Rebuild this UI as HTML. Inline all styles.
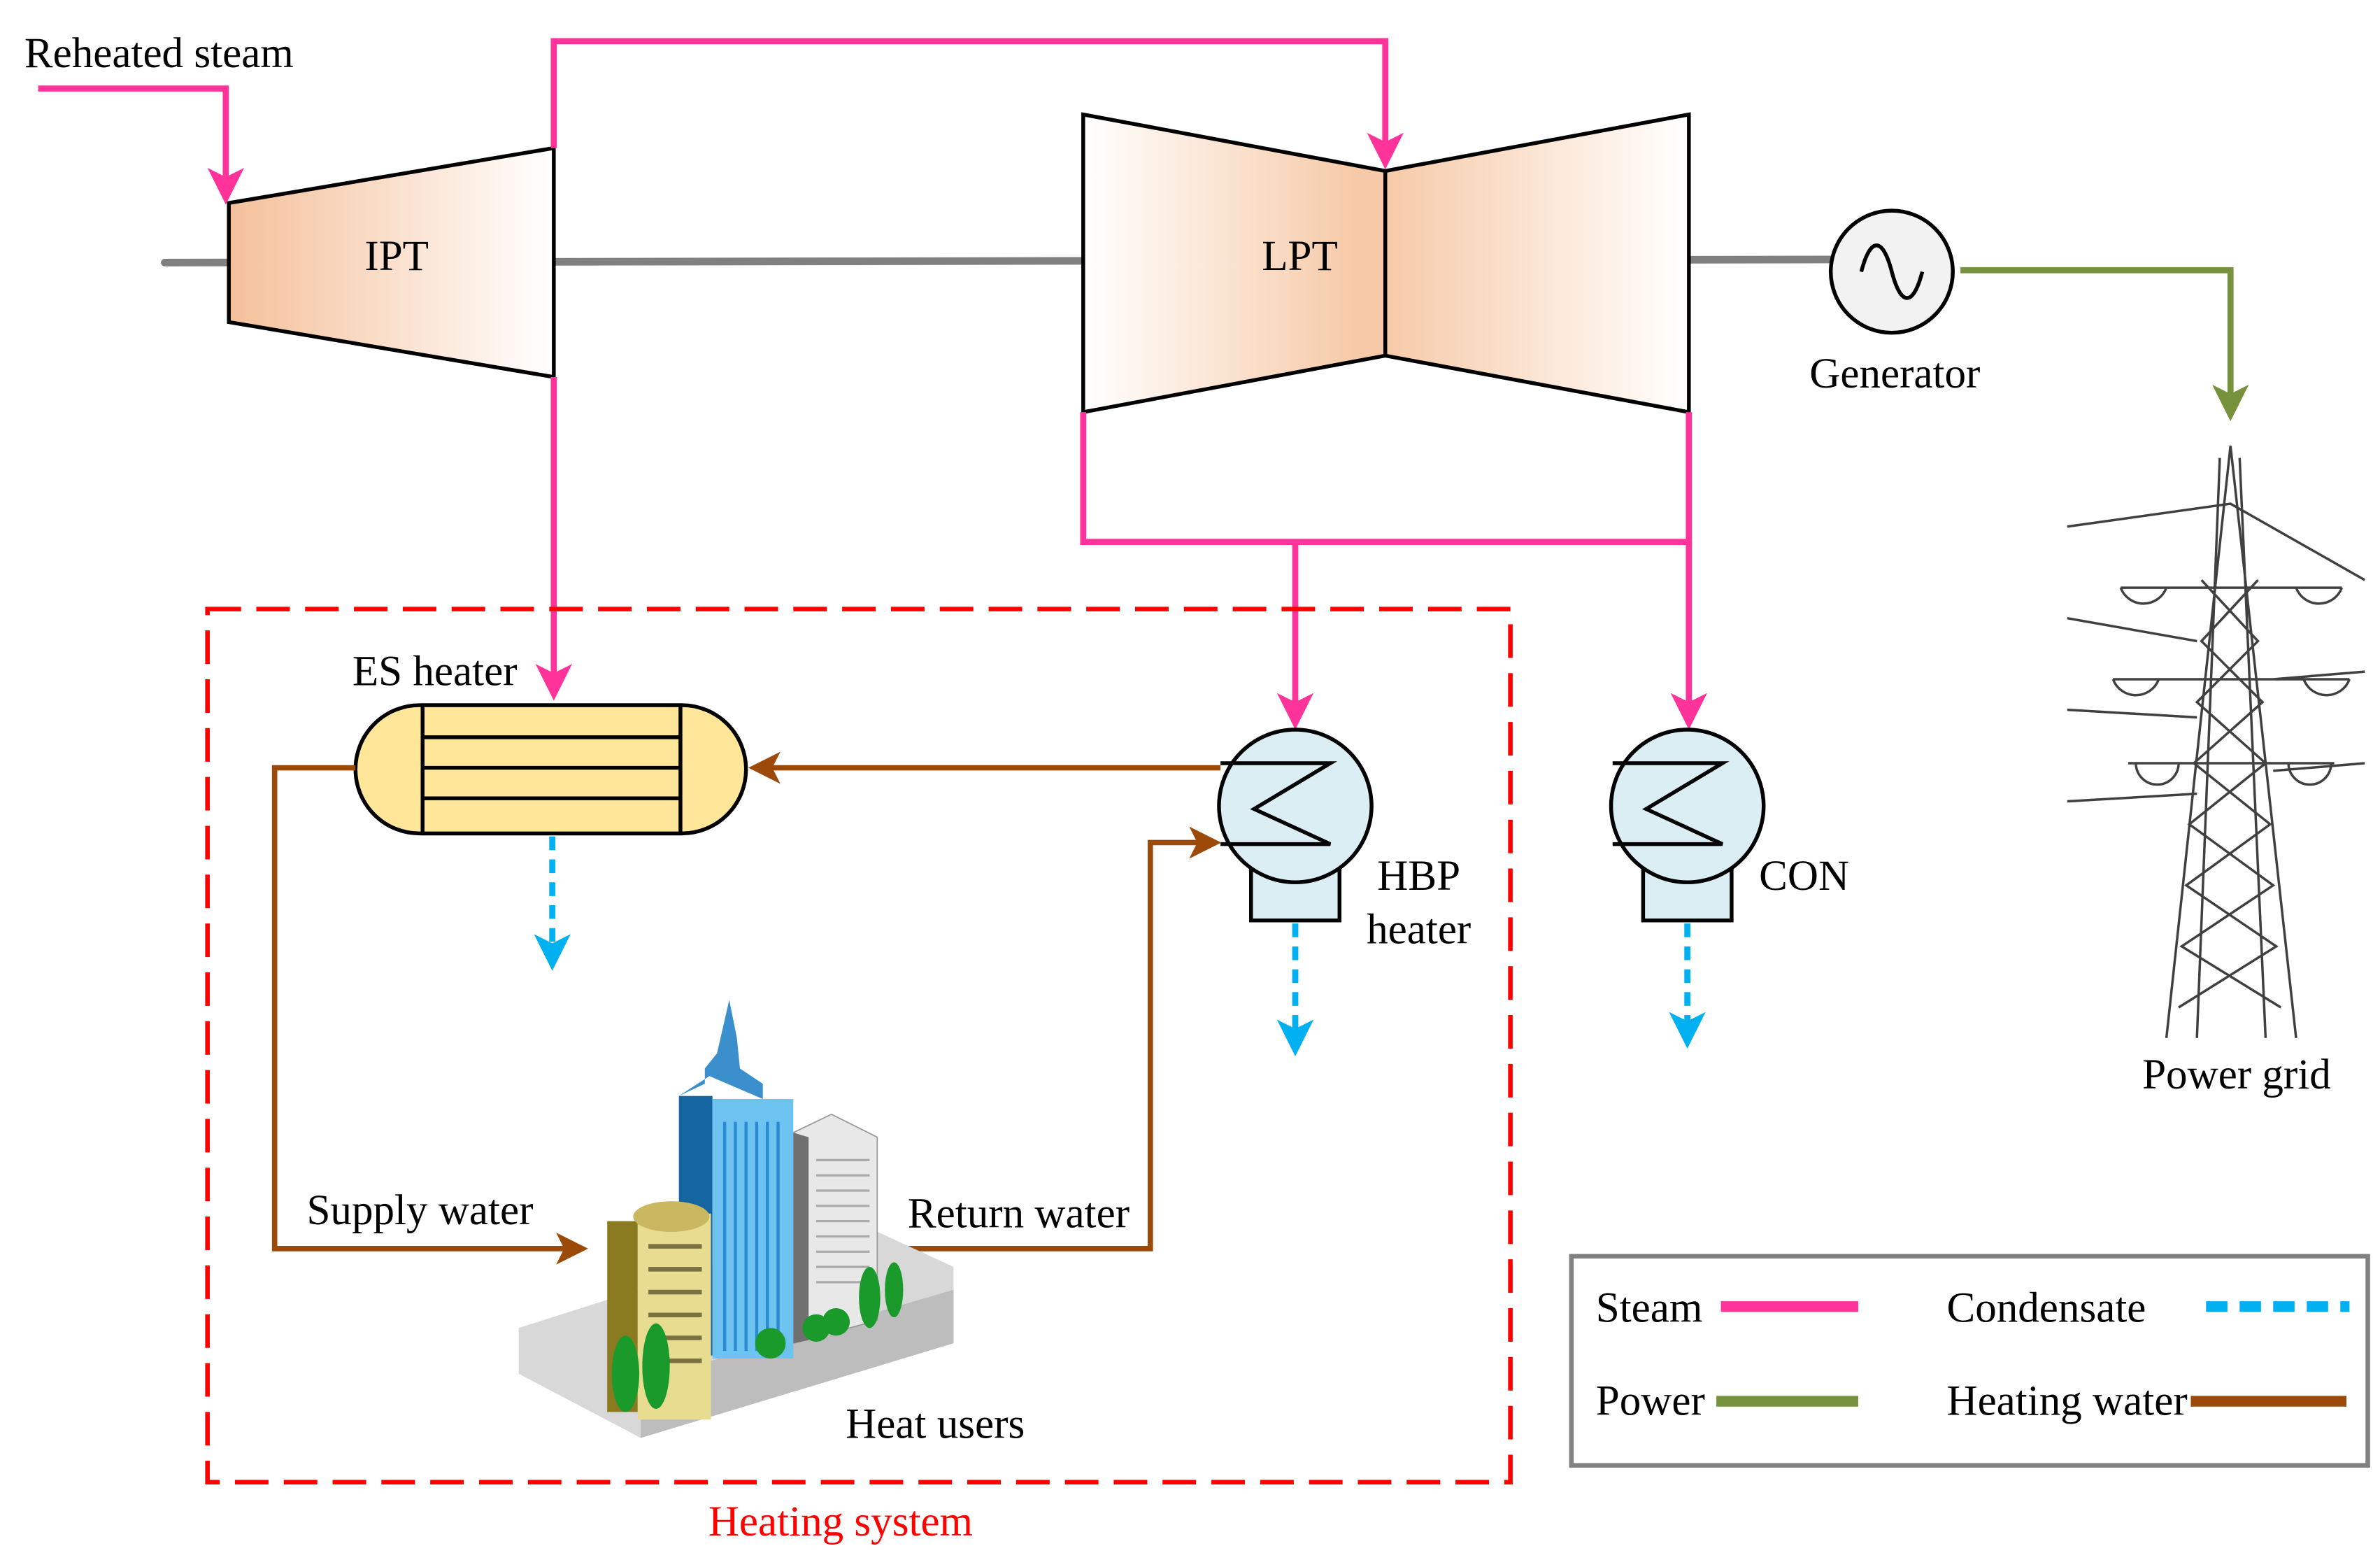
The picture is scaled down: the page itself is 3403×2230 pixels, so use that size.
<!DOCTYPE html>
<html><head><meta charset="utf-8"><style>
html,body{margin:0;padding:0;background:#fff}
svg{display:block}
text{font-family:"Liberation Serif",serif;fill:#000}
</style></head><body>
<svg width="3403" height="2230" viewBox="0 0 1560 1022" preserveAspectRatio="none" xmlns="http://www.w3.org/2000/svg">
<defs>
<linearGradient id="g1" x1="0" x2="1" y1="0" y2="0"><stop offset="0" stop-color="#f4c09a"/><stop offset="1" stop-color="#ffffff"/></linearGradient>
<linearGradient id="g2" x1="0" x2="1"><stop offset="0" stop-color="#fff"/><stop offset="0.9" stop-color="#f6caa8"/><stop offset="1" stop-color="#f6caa8"/></linearGradient>
<linearGradient id="g3" x1="0" x2="1"><stop offset="0" stop-color="#f6caa8"/><stop offset="1" stop-color="#fff"/></linearGradient>
<marker id="ap" markerWidth="6" markerHeight="6" refX="5" refY="3" orient="auto" markerUnits="strokeWidth"><path d="M0,0 L6,3 L0,6 L1.5,3z" fill="#ff3399"/></marker>
<marker id="ag" markerWidth="6" markerHeight="6" refX="5" refY="3" orient="auto" markerUnits="strokeWidth"><path d="M0,0 L6,3 L0,6 L1.5,3z" fill="#76923c"/></marker>
<marker id="ab" markerWidth="6" markerHeight="6" refX="5" refY="3" orient="auto" markerUnits="strokeWidth"><path d="M0,0 L6,3 L0,6 L1.5,3z" fill="#9c4a0a"/></marker>
<marker id="ac" markerWidth="6" markerHeight="6" refX="5" refY="3" orient="auto" markerUnits="strokeWidth"><path d="M0,0 L6,3 L0,6 L1.5,3z" fill="#00b0f0"/></marker>
</defs>
<line x1="108" y1="172" x2="1200" y2="170" stroke="#808080" stroke-width="5" stroke-linecap="round"/>
<polygon points="150,133 363,97 363,247 150,211" fill="url(#g1)" stroke="#000" stroke-width="2.5"/>
<text x="260" y="177" font-size="28" text-anchor="middle">IPT</text>
<polygon points="710,75 908,112 908,233 710,270" fill="url(#g2)" stroke="#000" stroke-width="2.5"/>
<polygon points="908,112 1107,75 1107,270 908,233" fill="url(#g3)" stroke="#000" stroke-width="2.5"/>
<text x="852" y="177" font-size="28" text-anchor="middle">LPT</text>
<circle cx="1240" cy="178" r="40" fill="#f2f2f2" stroke="#000" stroke-width="2.5"/>
<path d="M1220,178 C1226,155 1234,155 1240,178 C1246,201 1254,201 1260,178" fill="none" stroke="#000" stroke-width="2.5"/>
<text x="1242" y="254" font-size="28" text-anchor="middle">Generator</text>
<g fill="none" stroke="#ff3399" stroke-width="4">
<path d="M25,58 H148 V130" marker-end="url(#ap)"/>
<path d="M363,97 V27 H908 V107" marker-end="url(#ap)"/>
<path d="M363,247 V455" marker-end="url(#ap)"/>
<path d="M710,270 V355 H1107 V270"/>
<path d="M849,355 V474" marker-end="url(#ap)"/>
<path d="M1107,355 V474" marker-end="url(#ap)"/>
</g>
<text x="16" y="44" font-size="28">Reheated steam</text>
<path d="M1285,177 H1462 V272" fill="none" stroke="#76923c" stroke-width="4" marker-end="url(#ag)"/>
<g stroke="#404040" stroke-width="1.6" fill="none">
<path d="M1462,292 L1420,680 M1462,292 L1505,680 M1455,300 L1440,680 M1468,300 L1485,680"/>
<path d="M1443,380 L1480,420 L1440,460 L1485,500 L1435,540 L1490,580 L1430,620 L1495,660 M1480,380 L1443,420 L1483,460 L1438,500 L1488,540 L1433,580 L1492,620 L1428,660"/>
<path d="M1390,385 H1535 M1385,445 H1540 M1395,500 H1530 M1355,345 L1462,330 L1550,380 M1355,405 L1440,420 M1355,465 L1440,470 M1355,525 L1440,520 M1550,440 L1490,445 M1550,500 L1490,505"/>
<path d="M1390,385 a16,16 0 0 0 30,0 M1505,385 a16,16 0 0 0 30,0 M1385,445 a16,16 0 0 0 30,0 M1510,445 a16,16 0 0 0 30,0 M1400,500 a14,14 0 0 0 28,0 M1500,500 a14,14 0 0 0 28,0"/>
</g>
<text x="1466" y="713" font-size="28" text-anchor="middle">Power grid</text>
<rect x="136" y="399" width="854" height="572" fill="none" stroke="#ff0000" stroke-width="3" stroke-dasharray="22,10"/>
<text x="551" y="1006" font-size="28" text-anchor="middle" style="fill:#ff0000">Heating system</text>
<rect x="233" y="462" width="256" height="84" rx="42" fill="#ffe699" stroke="#000" stroke-width="2.5"/>
<rect x="277" y="462" width="169" height="84" fill="#ffe699" stroke="#000" stroke-width="2.5"/>
<path d="M277,483 H446 M277,503 H446 M277,523 H446" stroke="#000" stroke-width="2.5"/>
<text x="285" y="449" font-size="28" text-anchor="middle">ES heater</text>
<g stroke="#000" stroke-width="2.5">
<rect x="820" y="570" width="58" height="33" fill="#dbeef4"/>
<circle cx="849" cy="528" r="50" fill="#dbeef4"/>
<path d="M800,500 H872 L822,530 L872,553 H800" fill="none"/>
<rect x="1077" y="570" width="58" height="33" fill="#dbeef4"/>
<circle cx="1106" cy="528" r="50" fill="#dbeef4"/>
<path d="M1057,500 H1129 L1079,530 L1129,553 H1057" fill="none"/>
</g>
<text x="930" y="583" font-size="28" text-anchor="middle">HBP</text>
<text x="930" y="618" font-size="28" text-anchor="middle">heater</text>
<text x="1153" y="583" font-size="28">CON</text>
<g fill="none" stroke="#00b0f0" stroke-width="4" stroke-dasharray="9,6">
<path d="M362,548 V632" marker-end="url(#ac)"/>
<path d="M849,605 V688" marker-end="url(#ac)"/>
<path d="M1106,605 V683" marker-end="url(#ac)"/>
</g>
<g fill="none" stroke="#9c4a0a" stroke-width="3.5">
<path d="M800,503 H494" marker-end="url(#ab)"/>
<path d="M233,503 H180 V818 H382" marker-end="url(#ab)"/>
<path d="M590,818 H754 V552 H797" marker-end="url(#ab)"/>
</g>
<text x="201" y="802" font-size="28">Supply water</text>
<text x="595" y="804" font-size="28">Return water</text>
<polygon points="340,870 560,800 625,830 625,880 420,942 340,900" fill="#d8d8d8"/>
<polygon points="420,905 625,845 625,880 420,942" fill="#bdbdbd"/>
<polygon points="520,742 545,730 575,745 575,865 520,880" fill="#e8e8e8" stroke="#999" stroke-width="0.8"/>
<polygon points="520,742 530,745 530,878 520,880" fill="#707070"/>
<path d="M535,760 H570 M535,770 H570 M535,780 H570 M535,790 H570 M535,800 H570 M535,810 H570 M535,820 H570 M535,830 H570 M535,840 H570" stroke="#aaa" stroke-width="1.5"/>
<polygon points="445,718 465,705 500,720 500,710 485,700 483,680 478,655 470,690 462,700 462,710 445,718" fill="#3a8fcc"/>
<rect x="445" y="718" width="22" height="170" fill="#1565a0"/>
<rect x="467" y="720" width="53" height="170" fill="#6cc3f0"/>
<path d="M475,735 V885 M482,735 V885 M489,735 V885 M496,735 V885 M503,735 V885 M510,735 V885" stroke="#2a8ad0" stroke-width="2"/>
<rect x="398" y="800" width="20" height="125" fill="#8a7a20"/>
<rect x="418" y="795" width="48" height="135" fill="#e8dc90"/>
<ellipse cx="440" cy="797" rx="25" ry="10" fill="#c9b860"/>
<g fill="#7a7040"><rect x="425" y="815" width="35" height="3"/><rect x="425" y="830" width="35" height="3"/><rect x="425" y="845" width="35" height="3"/><rect x="425" y="860" width="35" height="3"/><rect x="425" y="875" width="35" height="3"/><rect x="425" y="890" width="35" height="3"/></g>
<g fill="#1a9a2a"><ellipse cx="410" cy="900" rx="9" ry="25"/><ellipse cx="430" cy="895" rx="9" ry="28"/><circle cx="505" cy="880" r="10"/><circle cx="535" cy="870" r="9"/><circle cx="548" cy="866" r="9"/><ellipse cx="570" cy="850" rx="7" ry="20"/><ellipse cx="586" cy="845" rx="6" ry="18"/></g>
<text x="613" y="942" font-size="28" text-anchor="middle">Heat users</text>
<rect x="1030" y="823" width="522" height="137" fill="#fff" stroke="#808080" stroke-width="3"/>
<text x="1046" y="866" font-size="28">Steam</text>
<line x1="1128" y1="856" x2="1218" y2="856" stroke="#ff3399" stroke-width="7"/>
<text x="1276" y="866" font-size="28">Condensate</text>
<line x1="1446" y1="856" x2="1540" y2="856" stroke="#00b0f0" stroke-width="7" stroke-dasharray="14,8"/>
<text x="1046" y="927" font-size="28">Power</text>
<line x1="1125" y1="918" x2="1218" y2="918" stroke="#76923c" stroke-width="7"/>
<text x="1276" y="927" font-size="28">Heating water</text>
<line x1="1436" y1="918" x2="1538" y2="918" stroke="#9c4a0a" stroke-width="7"/>
</svg>
</body></html>
